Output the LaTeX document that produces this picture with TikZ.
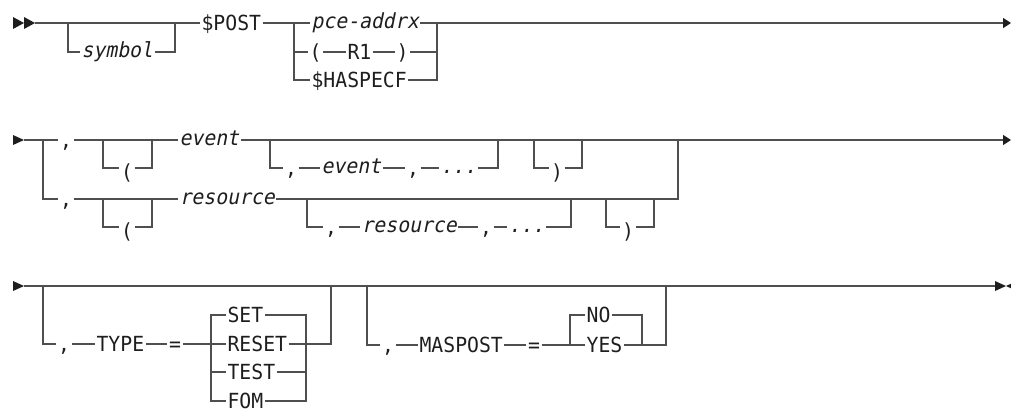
\documentclass[tikz,border=0pt]{standalone}
\usepackage{fontspec}
\usepackage{tikz}
\usetikzlibrary{arrows.meta,calc,positioning}
\newfontfamily\railfont{DejaVu Sans Mono}[FakeStretch=0.95]
\newfontfamily\varfont{DejaVu Sans Mono}[FakeStretch=0.95,FakeSlant=0.2]
\definecolor{railgray}{HTML}{4F4F4F}
\definecolor{ink}{HTML}{1E1E1E}
\tikzset{
  rail/.style={draw=railgray, line width=1.15pt},
  railend/.style={rail, -{Triangle[length=6pt,width=7.5pt,color=ink]}},
  tipfill/.style={fill=ink},
  kw/.style={font=\railfont\fontsize{15.6pt}{17pt}\selectfont, text=ink, anchor=west, inner xsep=1pt, inner ysep=0pt, text height=11.4pt, text depth=0pt},
  var/.style={kw, font=\varfont\fontsize{15.6pt}{17pt}\selectfont, text height=8.8pt},
  sym/.style={kw, anchor=center},
  lowsym/.style={sym, text height=17pt}
}
\begin{document}
\begin{tikzpicture}[x=0.75pt, y=-0.75pt]
  \useasboundingbox (0,0) rectangle (1011,408);
  % first line
  \fill[tipfill] (13,17) -- (24,23) -- (13,29) -- cycle;
  \fill[tipfill] (24,17) -- (35,23) -- (24,29) -- cycle;
  \coordinate (r1s) at (35,23);
  \coordinate (r1a) at (68,23);
  \coordinate (r1b) at (175,23);
  \coordinate (r1c) at (294,23);
  \coordinate (r1d) at (437,23);
  \coordinate (r1end) at (1011,23);
  \node[var] (symbol) at (80,52) {symbol};
  \node[kw] (post) at (200,23) {\$POST};
  \node[var] (pce) at (310,23) {pce-addrx};
  \node[kw] (lpar1) at (308,52) {(};
  \node[kw] (r1) at (346,52) {R1};
  \node[kw] (rpar1) at (395,52) {)};
  \node[kw] (haspecf) at (310,80) {\$HASPECF};
  \draw[railend] (r1s) -- (r1a) -- (r1b) -- (post) -- (r1c) -- (pce) -- (r1d) -- (r1end);
  \draw[rail] (r1a) |- (symbol) -| (r1b);
  \draw[rail] (r1c) |- (lpar1) -- (r1) -- (rpar1) -| (r1d);
  \draw[rail] (r1c) |- (haspecf) -| (r1d);
  % second line
  \fill[tipfill] (13,135) -- (24,140) -- (13,145) -- cycle;
  \coordinate (r2s) at (24,140);
  \coordinate (r2a) at (43,140);
  \coordinate (r2b) at (103,140);
  \coordinate (r2c) at (152,140);
  \coordinate (r2d) at (270,140);
  \coordinate (r2e) at (498,140);
  \coordinate (r2f) at (534,140);
  \coordinate (r2g) at (582,140);
  \coordinate (r2z) at (678,140);
  \coordinate (r2end) at (1011,140);
  \node[sym] (c2a) at (66,140) {,};
  \node[lowsym] (lp2a) at (127,168) {(};
  \node[var] (event) at (178,140) {event};
  \node[sym] (c2b) at (291,168) {,};
  \node[var] (event2) at (320,168) {event};
  \node[sym] (c2c) at (413,168) {,};
  \node[var] (dots2) at (439,168) {...};
  \node[lowsym] (rp2a) at (557,168) {)};
  \coordinate (r2i) at (103,199);
  \coordinate (r2j) at (152,199);
  \coordinate (r2k) at (307,199);
  \coordinate (r2l) at (571,199);
  \coordinate (r2m) at (606,199);
  \coordinate (r2n) at (654,199);
  \node[sym] (c2d) at (66,199) {,};
  \node[lowsym] (lp2b) at (127,227) {(};
  \node[var] (resource) at (178,199) {resource};
  \node[sym] (c2e) at (331,227) {,};
  \node[var] (resource2) at (360,227) {resource};
  \node[sym] (c2f) at (486,227) {,};
  \node[var] (dots3) at (507,227) {...};
  \node[lowsym] (rp2b) at (628,227) {)};
  \draw[railend] (r2s) -- (r2a) -- (c2a) -- (r2b) -- (r2c) -- (event) -- (r2d) -- (r2e) -- (r2f) -- (r2g) -- (r2z) -- (r2end);
  \draw[rail] (r2b) |- (lp2a) -| (r2c);
  \draw[rail] (r2d) |- (c2b) -- (event2) -- (c2c) -- (dots2) -| (r2e);
  \draw[rail] (r2f) |- (rp2a) -| (r2g);
  \draw[rail] (r2a) |- (c2d) -- (r2i) -- (r2j) -- (resource) -- (r2k) -- (r2l) -- (r2m) -- (r2n) -| (r2z);
  \draw[rail] (r2i) |- (lp2b) -| (r2j);
  \draw[rail] (r2k) |- (c2e) -- (resource2) -- (c2f) -- (dots3) -| (r2l);
  \draw[rail] (r2m) |- (rp2b) -| (r2n);
  % third line
  \fill[tipfill] (13,281) -- (24,286) -- (13,291) -- cycle;
  \coordinate (r3s) at (24,286);
  \coordinate (r3a) at (43,286);
  \coordinate (r3b) at (331,286);
  \coordinate (r3e) at (367,286);
  \coordinate (r3f) at (666,286);
  \coordinate (r3end) at (995,286);
  \coordinate (r3c) at (211,344);
  \coordinate (r3d) at (306,344);
  \coordinate (r3g) at (570,345);
  \coordinate (r3h) at (642,345);
  \node[sym] (c3a) at (64,344) {,};
  \node[kw] (type) at (95,344) {TYPE};
  \node[sym] (eq3a) at (175,344) {=};
  \node[kw] (set) at (226,315) {SET};
  \node[kw] (reset) at (226,344) {RESET};
  \node[kw] (test) at (226,372) {TEST};
  \node[kw] (fom) at (226,401) {FOM};
  \node[sym] (c3b) at (388,345) {,};
  \node[kw] (maspost) at (418,345) {MASPOST};
  \node[sym] (eq3b) at (534,345) {=};
  \node[kw] (no) at (585,315) {NO};
  \node[kw] (yes) at (585,345) {YES};
  \draw[rail] (r3s) -- (r3a) -- (r3b) -- (r3e) -- (r3f) -- (r3end);
  \draw[rail] (r3a) |- (c3a) -- (type) -- (eq3a) -- (r3c) -- (reset) -- (r3d) -| (r3b);
  \draw[rail] (r3c) |- (set) -| (r3d);
  \draw[rail] (r3c) |- (test) -| (r3d);
  \draw[rail] (r3c) |- (fom) -| (r3d);
  \draw[rail] (r3e) |- (c3b) -- (maspost) -- (eq3b) -- (r3g) -- (yes) -- (r3h) -| (r3f);
  \draw[rail] (r3g) |- (no) -| (r3h);
  \fill[tipfill] (995,281) -- (1006,286) -- (995,291) -- cycle;
  \fill[tipfill] (1017,281) -- (1006,286) -- (1017,291) -- cycle;
\end{tikzpicture}
\end{document}
